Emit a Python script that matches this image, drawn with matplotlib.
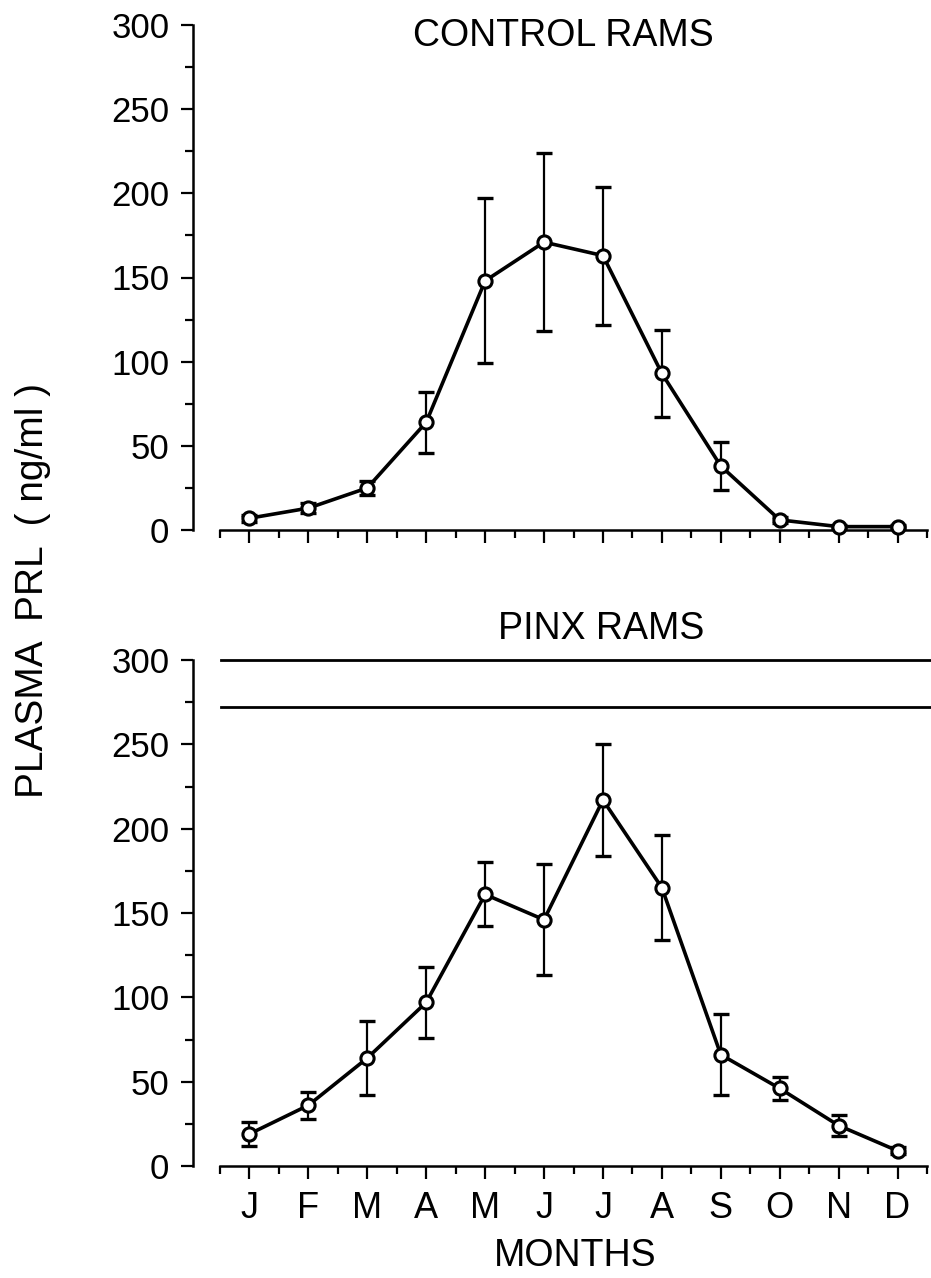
import numpy as np
import matplotlib
matplotlib.use("Agg")
import matplotlib.pyplot as plt

plt.rcParams['font.family'] = ['Liberation Sans', 'DejaVu Sans']

months = ["J", "F", "M", "A", "M", "J", "J", "A", "S", "O", "N", "D"]
control_mean = [7, 13, 25, 64, 148, 171, 163, 93, 38, 6, 2, 2]
control_sem = [2, 3, 4, 18, 49, 53, 41, 26, 14, 2, 1, 1]
pinx_mean = [19, 36, 64, 97, 161, 146, 217, 165, 66, 46, 24, 9]
pinx_sem = [7, 8, 22, 21, 19, 33, 33, 31, 24, 7, 6, 2]
pinx_hlines = [300, 272]

W, H = 931, 1278
fig = plt.figure(figsize=(W / 100, H / 100), dpi=100)


def rect(x0, x1, ytop, ybot):
    return [x0 / W, 1 - ybot / H, (x1 - x0) / W, (ybot - ytop) / H]


ax1 = fig.add_axes(rect(220, 927, 25, 530))
ax2 = fig.add_axes(rect(220, 927, 660, 1166))

x = np.arange(len(months))

for ax, mean, sem in [(ax1, control_mean, control_sem), (ax2, pinx_mean, pinx_sem)]:
    ax.set_xlim(-0.5, 11.5)
    ax.set_ylim(0, 300)
    for s in ['top', 'right']:
        ax.spines[s].set_visible(False)
    ax.spines['left'].set_position(('outward', 19.5))
    ax.spines['left'].set_bounds(0, 300)
    ax.spines['left'].set_linewidth(1.8)
    ax.spines['bottom'].set_linewidth(1.8)
    ax.set_xticks(x)
    ax.set_xticks(np.arange(-0.5, 12, 1.0), minor=True)
    ax.set_yticks(np.arange(0, 301, 50))
    ax.set_yticks(np.arange(25, 300, 50), minor=True)
    ax.tick_params(axis='both', which='major', direction='out', length=9, width=1.6,
                   labelsize=25, pad=8)
    ax.tick_params(axis='both', which='minor', direction='out', length=5.5, width=1.6)
    ax.errorbar(x, mean, yerr=sem, fmt='none', ecolor='black', elinewidth=1.6,
                capsize=6, capthick=2.4, clip_on=False, zorder=2)
    ax.plot(x, mean, color='black', lw=2.6, zorder=3, clip_on=False)
    ax.plot(x, mean, 'o', ms=9.5, mfc='white', mec='black', mew=2.2, zorder=4,
            clip_on=False)

ax1.set_xticklabels([])
ax2.set_xticklabels(months, fontsize=26)
ax2.tick_params(axis='x', which='major', pad=9)

for yv in pinx_hlines:
    ax2.plot([-0.48, 11.62], [yv, yv], color='black', lw=2.0, clip_on=False, zorder=1)

fig.text(563 / W, 1 - 36 / H, "CONTROL RAMS", ha='center', va='center', fontsize=27)
fig.text(601 / W, 1 - 629 / H, "PINX RAMS", ha='center', va='center', fontsize=27)
fig.text(575 / W, 1 - 1256 / H, "MONTHS", ha='center', va='center', fontsize=27)
fig.text(33 / W, 1 - 590 / H, "PLASMA  PRL  ( ng/ml )", ha='center', va='center',
         rotation=90, fontsize=28)

fig.savefig("out.png", dpi=100)
